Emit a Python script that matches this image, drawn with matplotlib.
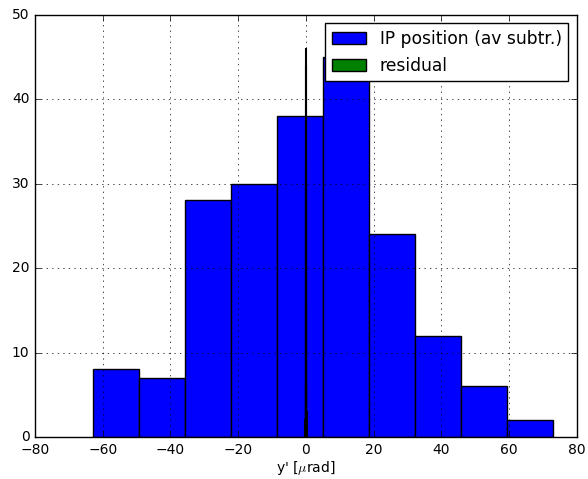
import numpy as np
import matplotlib
matplotlib.use("Agg")
import matplotlib.pyplot as plt

plt.style.use("classic")

# IP position histogram (average subtracted), bin edges in urad
ip_edges = [-62.8, -49.2, -35.6, -22.1, -8.5, 5.1, 18.6, 32.2, 45.8, 59.3, 72.9]
ip_counts = [8, 7, 28, 30, 38, 45, 24, 12, 6, 2]

# residual histogram: very narrow around zero
res_edges = [-0.15, -0.12, -0.09, -0.06, -0.03, 0.0, 0.03, 0.06, 0.09, 0.12, 0.15]
res_counts = [2, 6, 15, 30, 46, 44, 32, 16, 6, 3]

fig = plt.figure(figsize=(5.88, 4.79), dpi=100)
ax = fig.add_axes([0.0595, 0.0877, 0.9218, 0.8817])

ax.bar(ip_edges[:-1], ip_counts, width=np.diff(ip_edges), align="edge",
       color="blue", edgecolor="black", label="IP position (av subtr.)")
ax.bar(res_edges[:-1], res_counts, width=np.diff(res_edges), align="edge",
       color="green", edgecolor="black", linewidth=1.5, label="residual")

ax.set_xlim(-80, 80)
ax.set_ylim(0, 50)
ax.tick_params(labelsize=10)
ax.set_xlabel(r"y' [$\mu$rad]", fontsize=10, labelpad=2)
ax.grid(True)
leg = ax.legend(loc="upper right", fontsize=12.3)
for h in leg.legend_handles:
    h.set_linewidth(1.0)

fig.savefig("out.png")
